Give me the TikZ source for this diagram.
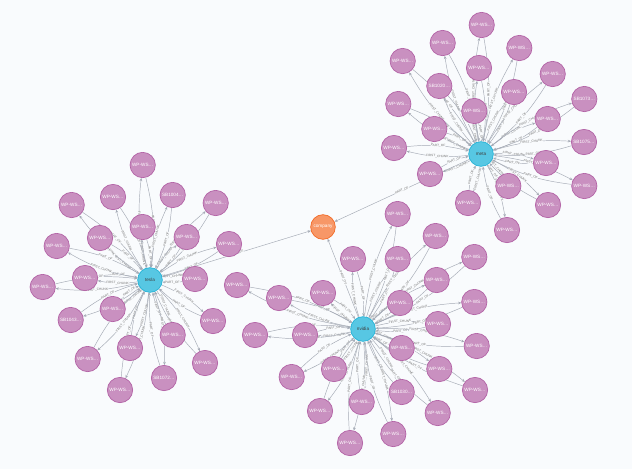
\documentclass[tikz,border=0pt]{standalone}
\usepackage{fontspec}
\setmainfont{Liberation Sans}
\usetikzlibrary{arrows.meta}
\definecolor{bgcol}{HTML}{F9FBFD}
\definecolor{relgray}{HTML}{A5ABB6}
\definecolor{chunkfill}{HTML}{C990C0}
\definecolor{chunkline}{HTML}{B261A5}
\definecolor{docfill}{HTML}{57C7E3}
\definecolor{docline}{HTML}{23B3D7}
\definecolor{orgfill}{HTML}{F79767}
\definecolor{orgline}{HTML}{F36924}
\pgfdeclarelayer{edges}
\pgfsetlayers{edges,main}

\begin{document}
\begin{tikzpicture}[x=0.75pt, y=-0.75pt,
            chunk/.style={circle, draw=chunkline, fill=chunkfill, line width=0.5pt,
                          minimum size=19pt, inner sep=0pt, text=white,
                          font=\fontsize{3.5}{4}\selectfont},
            doc/.style={chunk, minimum size=18.5pt, draw=docline, fill=docfill, text=black!75},
            org/.style={chunk, minimum size=18.5pt, draw=orgline, fill=orgfill},
            rel/.style={draw=relgray, line width=0.35pt, arrows=-{Stealth[length=2.4pt, width=2pt]}},
            lbl/.style={sloped, font=\fontsize{2.4}{3}\selectfont, text=black!55, fill=bgcol, inner sep=0.2pt}
        ]
        \useasboundingbox (0,0) rectangle (632,469);

        % documents
        \node[doc] (tesla) at (150,280) {tesla};
        \node[doc] (nvidia) at (363,329) {nvidia};
        \node[doc] (meta) at (481,154) {meta};
        \node[org] (company) at (323,227) {company};

        % chunks of tesla
        \foreach \nm/\px/\py/\txt in {t1/142.7/227/WP-WS…, t2/100/238/WP-WS…, t3/186.7/237/WP-WS…,
                t4/85/278/WP-WS…, t5/195/279/WP-WS…, t6/112.7/309/WP-WS…, t7/213/321/WP-WS…,
                t8/172.7/335/WP-WS…, t9/130/348/WP-WS…, t10/229/244/WP-WS…, t11/142.7/165/WP-WS…,
                t12/113/197/WP-WS…, t13/172.7/195/SB1004…, t14/71.7/205/WP-WS…, t15/215.7/203/WP-WS…,
                t16/56.7/246/WP-WS…, t17/42.7/287/WP-WS…, t18/70.7/320/SB1043…, t19/87.7/359/WP-WS…,
                t20/120/390/WP-WS…, t21/164/378/SB1072…, t22/205/363/WP-WS…}
            \node[chunk] (\nm) at (\px,\py) {\txt};

        % chunks of nvidia
        \foreach \nm/\px/\py/\txt in {n1/353/259/WP-WS…, n2/397.7/259/WP-WS…, n3/323/293/WP-WS…,
                n4/400/303/WP-WS…, n5/305/335/WP-WS…, n6/438/324/WP-WS…, n7/401.7/348/WP-WS…,
                n8/334/369/WP-WS…, n9/361.7/402/WP-WS…, n10/401.7/392/SB1030…, n11/436.7/280/WP-WS…,
                n12/397.7/214/WP-WS…, n13/435.7/236/WP-WS…, n14/474.3/257/WP-WS…, n15/279/298/WP-WS…,
                n16/474.3/302/WP-WS…, n17/255/335/WP-WS…, n18/476.7/346/WP-WS…, n19/291.7/377/WP-WS…,
                n20/439.3/369/WP-WS…, n21/475/390/WP-WS…, n22/320/411/WP-WS…, n23/437.7/413/WP-WS…,
                n24/393.3/434/WP-WS…, n25/350/443/WP-WS…, n26/237/285/WP-WS…}
            \node[chunk] (\nm) at (\px,\py) {\txt};

        % chunks of meta
        \foreach \nm/\px/\py/\txt in {m1/474.3/111/WP-WS…, m2/434.3/129/WP-WS…, m3/514/92/WP-WS…,
                m4/547.7/119/WP-WS…, m5/546/163/WP-WS…, m6/508.3/186/WP-WS…, m7/430/174/WP-WS…,
                m8/468/203/WP-WS…, m9/481.7/25/WP-WS…, m10/442.7/43/WP-WS…, m11/519.3/48/WP-WS…,
                m12/402.7/61/WP-WS…, m13/479/68/WP-WS…, m14/552.7/74/WP-WS…, m15/439.3/86/SB1020…,
                m16/398.3/104/WP-WS…, m17/584.3/99/SB1073…, m18/584/142/SB1075…, m19/394/148/WP-WS…,
                m20/584.3/186/WP-WS…, m21/548/205/WP-WS…, m22/507/230/WP-WS…}
            \node[chunk] (\nm) at (\px,\py) {\txt};

        \begin{pgfonlayer}{edges}
            \fill[bgcol] (0,0) rectangle (632,469);

            \foreach \hub/\kids in {tesla/{t1,t2,t3,t4,t5,t6,t7,t8,t9,t10,t11,t12,t13,t14,t15,t16,t17,t18,t19,t20,t21,t22},
                    nvidia/{n1,n2,n3,n4,n5,n6,n7,n8,n9,n10,n11,n12,n13,n14,n15,n16,n17,n18,n19,n20,n21,n22,n23,n24,n25,n26},
                    meta/{m1,m2,m3,m4,m5,m6,m7,m8,m9,m10,m11,m12,m13,m14,m15,m16,m17,m18,m19,m20,m21,m22}}
                \foreach \k in \kids {
                    \draw[rel] (\hub) to[bend left=10] node[lbl] {FIRST\_CHUNK} (\k);
                    \draw[rel] (\k) to[bend left=10] node[lbl] {PART\_OF} (\hub);
                }

            \draw[rel] (tesla) to node[lbl] {PART\_OF} (company);
            \draw[rel] (nvidia) to node[lbl] {PART\_OF} (company);
            \draw[rel] (meta) to node[lbl] {PART\_OF} (company);
        \end{pgfonlayer}
    \end{tikzpicture}
\end{document}
